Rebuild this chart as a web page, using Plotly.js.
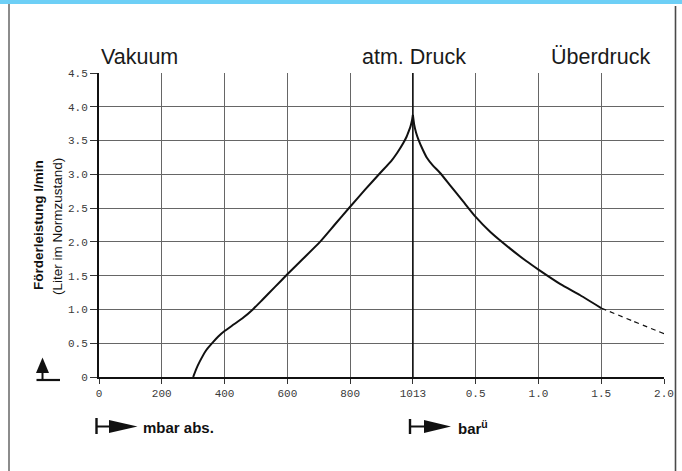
<!DOCTYPE html>
<html>
<head>
<meta charset="utf-8">
<script src="https://cdn.plot.ly/plotly-3.0.1.min.js"></script>
<style>
  html, body { margin: 0; padding: 0; background: #fff; }
  #wrap { position: relative; width: 682px; height: 471px; overflow: hidden; }
  #chart { position: absolute; left: 0; top: 0; width: 682px; height: 471px; }
  #deco { position: absolute; left: 0; top: 0; pointer-events: none; }
</style>
</head>
<body>
<div id="wrap">
  <div id="chart"></div>
  <svg id="deco" width="682" height="471" viewBox="0 0 682 471">
    <rect x="0" y="0" width="682" height="4" fill="#6dcff6"/>
    <line x1="9" y1="4" x2="9" y2="471" stroke="#8c8c8c" stroke-width="2"/>
    <line x1="675.5" y1="6" x2="675.5" y2="471" stroke="#4a4a4a" stroke-width="1.6"/>
    <!-- up arrow near y title -->
    <polygon points="42.5,357.5 36,373 49,373" fill="#111"/>
    <line x1="42.5" y1="372" x2="42.5" y2="380" stroke="#111" stroke-width="2"/>
    <line x1="36.5" y1="380" x2="60" y2="380" stroke="#111" stroke-width="2.2"/>
    <!-- mbar abs. arrow -->
    <line x1="96.5" y1="418" x2="96.5" y2="434" stroke="#111" stroke-width="2.4"/>
    <line x1="96" y1="426.5" x2="114" y2="426.5" stroke="#111" stroke-width="2"/>
    <polygon points="109,420 109,433 137.5,426.5" fill="#111"/>
    <!-- bar arrow -->
    <line x1="410" y1="419" x2="410" y2="434" stroke="#111" stroke-width="2.4"/>
    <line x1="410" y1="426.5" x2="428" y2="426.5" stroke="#111" stroke-width="2"/>
    <polygon points="424,420 424,433 451,426.5" fill="#111"/>
  </svg>
</div>
<script>
// ---- data ----
// vacuum side: pressure in mbar absolute, flow in l/min
var vacMbar = [300, 310, 320, 342, 364, 380, 400, 430, 460, 490, 520, 560, 600, 650, 704, 750, 800, 850, 902, 940, 960, 980, 992, 1000, 1005, 1010, 1013];
var vacFlow = [0.00, 0.12, 0.22, 0.40, 0.52, 0.60, 0.68, 0.78, 0.88, 1.00, 1.14, 1.33, 1.52, 1.75, 2.00, 2.25, 2.52, 2.77, 3.02, 3.20, 3.32, 3.46, 3.56, 3.65, 3.71, 3.80, 3.88];
// overpressure side: pressure in bar gauge, flow in l/min
var overBar  = [0.00, 0.01, 0.025, 0.045, 0.08, 0.11, 0.16, 0.217, 0.30, 0.40, 0.50, 0.615, 0.775, 0.90, 1.00, 1.175, 1.333, 1.50];
var overFlow = [3.88, 3.74, 3.62, 3.51, 3.36, 3.25, 3.13, 3.02, 2.83, 2.60, 2.37, 2.15, 1.90, 1.72, 1.59, 1.375, 1.21, 1.02];
// extrapolated (dashed) part
var extBar  = [1.50, 1.75, 2.00];
var extFlow = [1.02, 0.83, 0.64];

// tick labels
var mbarTicks = [0, 200, 400, 600, 800, 1013];
var mbarTickText = ["0", "200", "400", "600", "800", "1013"];
var barTicks = [0.5, 1.0, 1.5, 2.0];
var barTickText = ["0.5", "1.0", "1.5", "2.0"];
var flowTicks = [0, 0.5, 1.0, 1.5, 2.0, 2.5, 3.0, 3.5, 4.0, 4.5];
var flowTickText = ["0", "0.5", "1.0", "1.5", "2.0", "2.5", "3.0", "3.5", "4.0", "4.5"];

// ---- scale: composite pressure axis (grid position) ----
function posMbar(p) { return p <= 800 ? p / 200 : 4 + (p - 800) / 213; }
function posBar(g) { return 5 + g / 0.5; }

var tickvals = mbarTicks.map(posMbar).concat(barTicks.map(posBar));
var ticktext = mbarTickText.concat(barTickText);

// ---- layout geometry helpers (pixel -> paper) ----
var W = 682, H = 471, L = 99, R = 18, T = 73, B = 94;
var PW = W - L - R, PH = H - T - B;
function px(x) { return (x - L) / PW; }
function py(y) { return (H - B - y) / PH; }

var traces = [
  { x: vacMbar.map(posMbar), y: vacFlow, mode: 'lines', line: { color: '#111', width: 2, shape: 'spline', smoothing: 0.5 }, hoverinfo: 'skip' },
  { x: overBar.map(posBar), y: overFlow, mode: 'lines', line: { color: '#111', width: 2, shape: 'spline', smoothing: 0.5 }, hoverinfo: 'skip' },
  { x: extBar.map(posBar), y: extFlow, mode: 'lines', line: { color: '#111', width: 1.2, dash: '5px,4px', shape: 'spline', smoothing: 0.5 }, hoverinfo: 'skip' }
];

var tickFont = { family: 'Liberation Mono, DejaVu Sans Mono, monospace', size: 11, color: '#3a3a3a' };
var headFont = { family: 'Liberation Sans, Arial, sans-serif', size: 21.5, color: '#1a1a1a' };

var layout = {
  width: W, height: H,
  margin: { l: L, r: R, t: T, b: B },
  paper_bgcolor: 'rgba(0,0,0,0)',
  plot_bgcolor: '#ffffff',
  showlegend: false,
  xaxis: {
    range: [0, 9], tickmode: 'array', tickvals: tickvals, ticktext: ticktext,
    showgrid: true, gridcolor: '#666666', gridwidth: 1,
    zeroline: false, showline: true, linecolor: '#111', linewidth: 1.6,
    ticks: 'outside', ticklen: 5, tickcolor: '#333', tickwidth: 1,
    tickfont: tickFont, fixedrange: true
  },
  yaxis: {
    range: [0, 4.5], tickmode: 'array', tickvals: flowTicks, ticktext: flowTickText,
    showgrid: true, gridcolor: '#666666', gridwidth: 1,
    zeroline: false, showline: true, linecolor: '#111', linewidth: 2,
    ticks: 'outside', ticklen: 7, tickcolor: '#333', tickwidth: 1,
    tickfont: tickFont, fixedrange: true
  },
  shapes: [
    { type: 'line', xref: 'x', yref: 'y', x0: posMbar(1013), x1: posMbar(1013), y0: 0, y1: 4.5, line: { color: '#111', width: 1.6 } }
  ],
  annotations: [
    { text: 'Vakuum', xref: 'paper', yref: 'paper', x: px(99), y: py(57), xanchor: 'left', yanchor: 'middle', showarrow: false, font: headFont },
    { text: 'atm. Druck', xref: 'paper', yref: 'paper', x: px(414), y: py(57), xanchor: 'center', yanchor: 'middle', showarrow: false, font: headFont },
    { text: 'Überdruck', xref: 'paper', yref: 'paper', x: px(600), y: py(57), xanchor: 'center', yanchor: 'middle', showarrow: false, font: headFont },
    { text: '<b>Förderleistung l/min</b>', xref: 'paper', yref: 'paper', x: px(38), y: py(225), xanchor: 'center', yanchor: 'middle', textangle: -90, showarrow: false,
      font: { family: 'Liberation Sans, Arial, sans-serif', size: 13.5, color: '#111' } },
    { text: '(Liter im Normzustand)', xref: 'paper', yref: 'paper', x: px(57), y: py(227), xanchor: 'center', yanchor: 'middle', textangle: -90, showarrow: false,
      font: { family: 'Liberation Sans, Arial, sans-serif', size: 13.5, color: '#111' } },
    { text: '<b>mbar abs.</b>', xref: 'paper', yref: 'paper', x: px(141), y: py(428), xanchor: 'left', yanchor: 'middle', showarrow: false,
      font: { family: 'Liberation Sans, Arial, sans-serif', size: 15, color: '#111' } },
    { text: '<b>bar<sup>ü</sup></b>', xref: 'paper', yref: 'paper', x: px(456), y: py(427), xanchor: 'left', yanchor: 'middle', showarrow: false,
      font: { family: 'Liberation Sans, Arial, sans-serif', size: 15, color: '#111' } }
  ]
};

Plotly.newPlot('chart', traces, layout, { staticPlot: true, displayModeBar: false });
</script>
</body>
</html>
